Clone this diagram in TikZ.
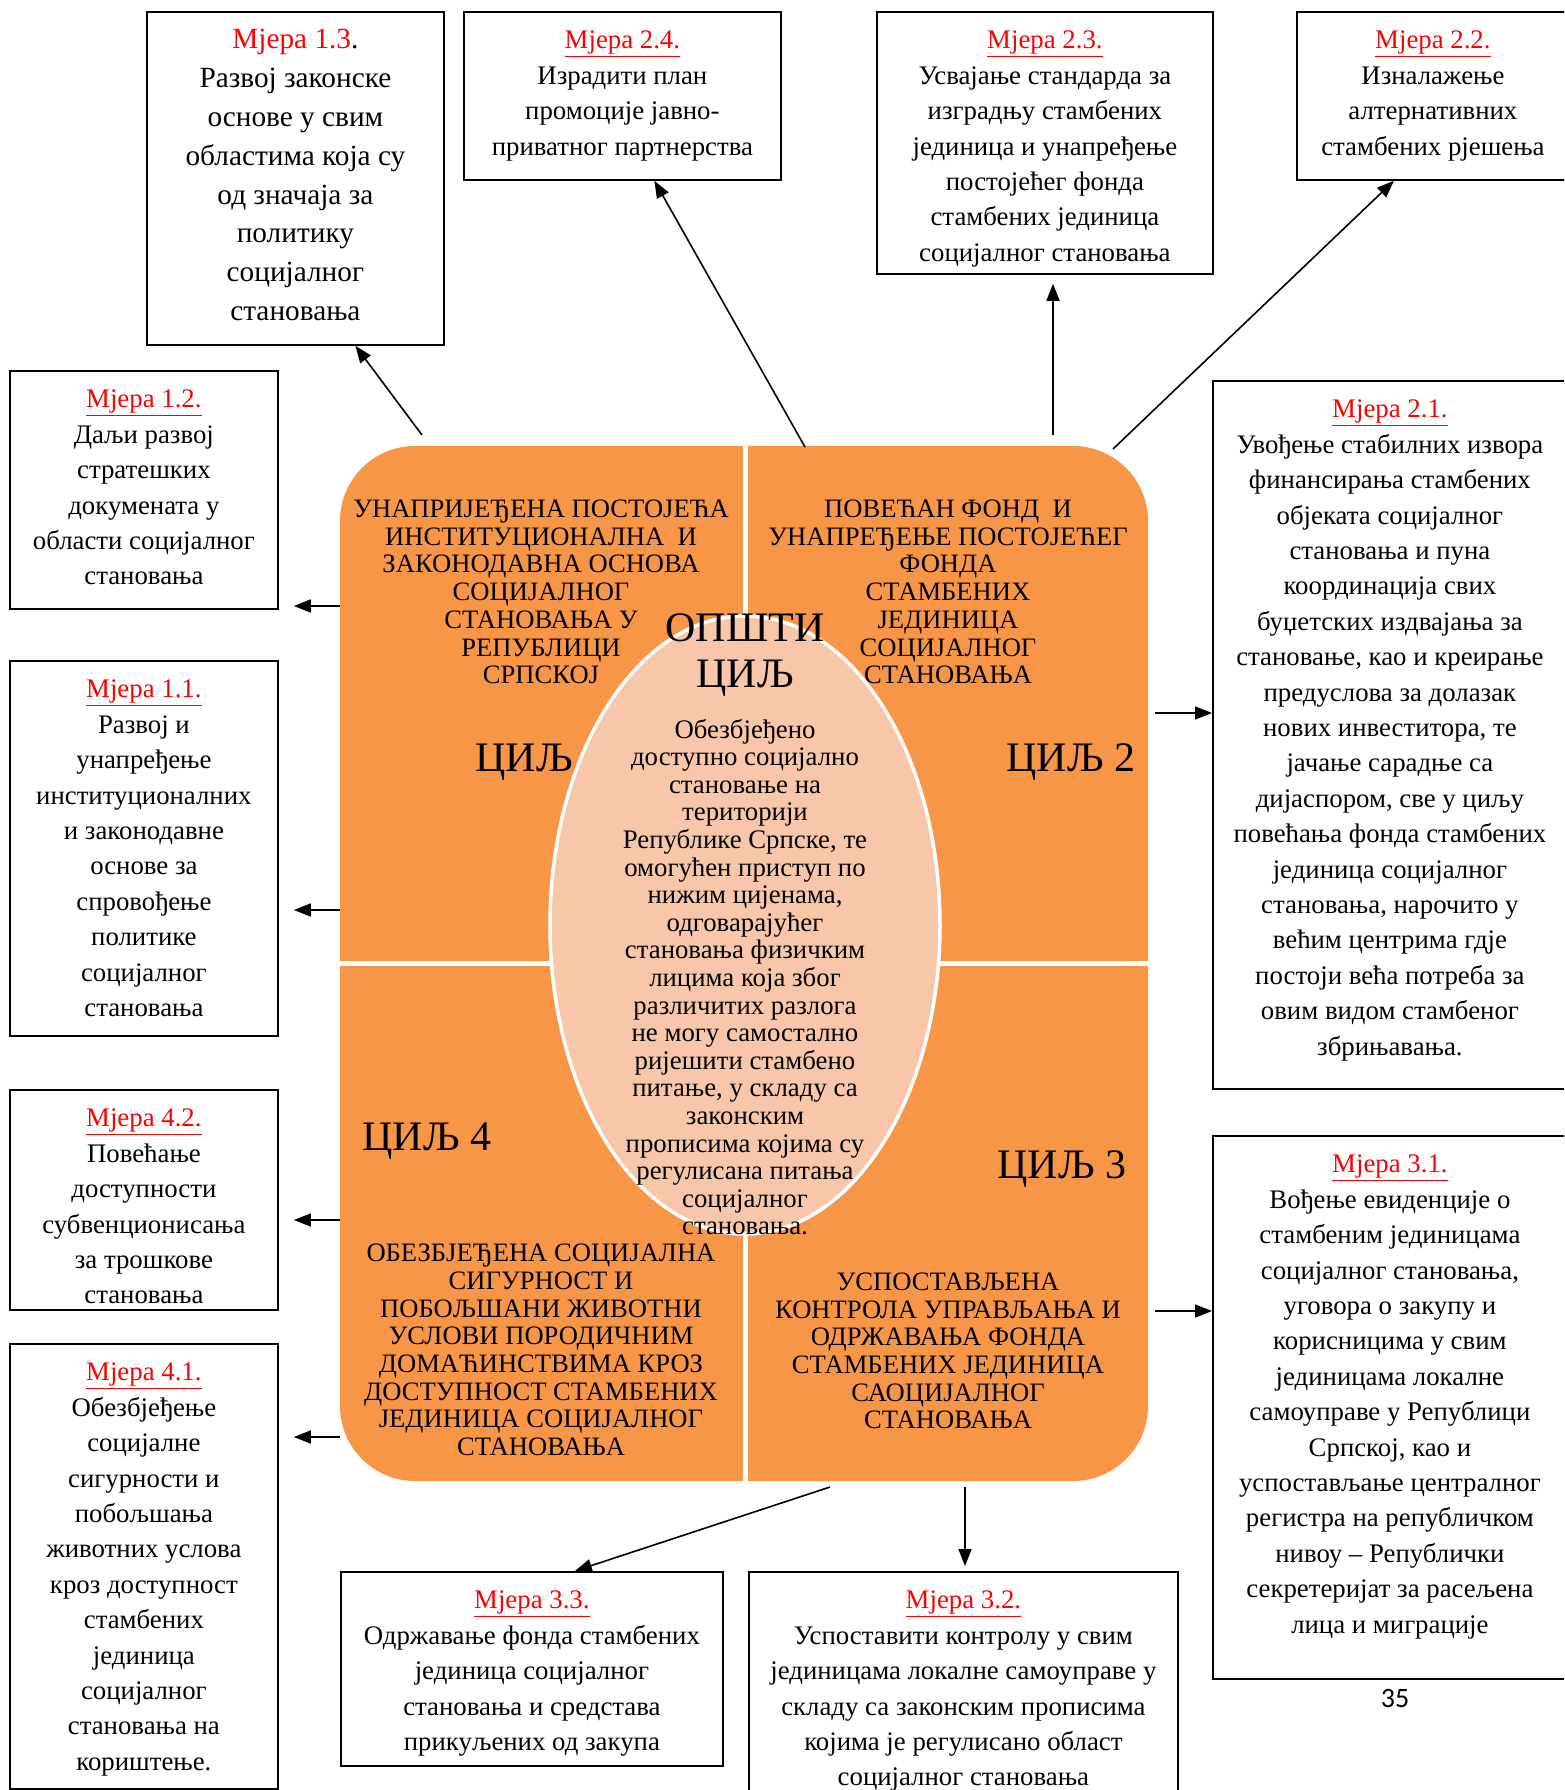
\documentclass[tikz,border=0pt]{standalone}
\usepackage{fontspec}
\setmainfont{Liberation Serif}
\newfontfamily\pagenumfont{Carlito}
\usepackage{xcolor}
\usepackage{tikz}
\usetikzlibrary{arrows.meta}

\definecolor{goalorange}{HTML}{F79646}
\definecolor{goalpeach}{HTML}{F8C6A9}
\definecolor{mjerared}{HTML}{FF0000}

\newcommand{\boxfont}{\fontsize{26.8}{35.4}\selectfont}
\newcommand{\bigboxfont}{\fontsize{29.3}{38.8}\selectfont}
\newcommand{\goalfont}{\fontsize{26.6}{27.7}\selectfont}
\newcommand{\ciljfont}{\fontsize{42}{46}\selectfont}
\newcommand{\opstifont}{\fontsize{26.8}{27.6}\selectfont}

\newcommand{\mjeralabel}[1]{\textcolor{mjerared}{\underline{Мјера #1}}}
\newcommand{\mjerabody}[3]{\parbox[c][#2][t]{#1}{\centering\rule{0pt}{37pt}#3}}

\begin{document}
\begin{tikzpicture}[x=1pt,y=-1pt,
    mjera/.style={draw=black, line width=1.8pt, inner sep=0pt, anchor=north west, font=\boxfont},
    goaltext/.style={align=center, inner sep=0pt, font=\goalfont},
    cilj/.style={inner sep=0pt, font=\ciljfont},
    arr/.style={-{Triangle[length=17pt,width=13pt]}, line width=1.6pt}]
  \useasboundingbox (0,0) rectangle (1564,1790);
  \clip (0,0) rectangle (1564,1790);

  % Orange block with the four goals
  \fill[goalorange, rounded corners=75pt] (340,446) rectangle (1148,1481);
  \draw[white, line width=5pt] (745,446) -- (745,1481);
  \draw[white, line width=5pt] (340,963) -- (1148,963);

  % General goal in the middle
  \draw[white, line width=3.5pt, fill=goalpeach] (745,925) ellipse [x radius=195pt, y radius=309pt];

  % Goal texts
  \node[goaltext] (g1) at (541,592) {УНАПРИЈЕЂЕНА ПОСТОЈЕЋА\\ИНСТИТУЦИОНАЛНА\ \ И\\ЗАКОНОДАВНА ОСНОВА\\СОЦИЈАЛНОГ\\СТАНОВАЊА У\\РЕПУБЛИЦИ\\СРПСКОЈ};
  \node[goaltext] (g2) at (948,592) {ПОВЕЋАН ФОНД\ \ И\\УНАПРЕЂЕЊЕ ПОСТОЈЕЋЕГ\\ФОНДА\\СТАМБЕНИХ\\ЈЕДИНИЦА\\СОЦИЈАЛНОГ\\СТАНОВАЊА};
  \node[goaltext] (g4) at (541,1350) {ОБЕЗБЈЕЂЕНА СОЦИЈАЛНА\\СИГУРНОСТ И\\ПОБОЉШАНИ ЖИВОТНИ\\УСЛОВИ ПОРОДИЧНИМ\\ДОМАЋИНСТВИМА КРОЗ\\ДОСТУПНОСТ СТАМБЕНИХ\\ЈЕДИНИЦА СОЦИЈАЛНОГ\\СТАНОВАЊА};
  \node[goaltext] (g3) at (948,1351) {УСПОСТАВЉЕНА\\КОНТРОЛА УПРАВЉАЊА И\\ОДРЖАВАЊА ФОНДА\\СТАМБЕНИХ ЈЕДИНИЦА\\САОЦИЈАЛНОГ\\СТАНОВАЊА};

  \node[cilj] (c1) at (524,762) {ЦИЉ};
  \node[cilj] (c2) at (1071,762) {ЦИЉ 2};
  \node[cilj] (c4) at (427,1141) {ЦИЉ 4};
  \node[cilj] (c3) at (1062,1169) {ЦИЉ 3};

  \node[cilj, align=center] (opsti) at (745,655) {ОПШТИ\\ЦИЉ};
  \node[align=center, inner sep=0pt, font=\opstifont] (opstitext) at (745,977) {Обезбјеђено\\доступно социјално\\становање на\\територији\\Републике Српске, те\\омогућен приступ по\\нижим цијенама,\\одговарајућег\\становања физичким\\лицима која због\\различитих разлога\\не могу самостално\\ријешити стамбено\\питање, у складу са\\законским\\прописима којима су\\регулисана питања\\социјалног\\становања.};

  % Measures
  \node[mjera, font=\bigboxfont] (m13) at (146,11) {\mjerabody{297pt}{333pt}{\textcolor{mjerared}{Мјера 1.3}.\\Развој законске\\основе у свим\\областима која су\\од значаја за\\политику\\социјалног\\становања}};
  \node[mjera] (m24) at (463,11) {\mjerabody{317pt}{168pt}{\mjeralabel{2.4.}\\Израдити план\\промоције јавно-\\приватног партнерства}};
  \node[mjera] (m23) at (876,11) {\mjerabody{336pt}{262pt}{\mjeralabel{2.3.}\\Усвајање стандарда за\\изградњу стамбених\\јединица и унапређење\\постојећег фонда\\стамбених јединица\\социјалног становања}};
  \node[mjera] (m22) at (1296,11) {\mjerabody{272pt}{168pt}{\mjeralabel{2.2.}\\Изналажење\\алтернативних\\стамбених рјешења}};
  \node[mjera] (m12) at (9,370) {\mjerabody{268pt}{238pt}{\mjeralabel{1.2.}\\Даљи развој\\стратешких\\докумената у\\области социјалног\\становања}};
  \node[mjera] (m11) at (9,660) {\mjerabody{268pt}{375pt}{\mjeralabel{1.1.}\\Развој и\\унапређење\\институционалних\\и законодавне\\основе за\\спровођење\\политике\\социјалног\\становања}};
  \node[mjera] (m42) at (9,1089) {\mjerabody{268pt}{220pt}{\mjeralabel{4.2.}\\Повећање\\доступности\\субвенционисања\\за трошкове\\становања}};
  \node[mjera] (m41) at (9,1343) {\mjerabody{268pt}{445pt}{\mjeralabel{4.1.}\\Обезбјеђење\\социјалне\\сигурности и\\побољшања\\животних услова\\кроз доступност\\стамбених\\јединица\\социјалног\\становања на\\кориштење.}};
  \node[mjera] (m21) at (1212,380) {\mjerabody{354pt}{708pt}{\mjeralabel{2.1.}\\Увођење стабилних извора\\финансирања стамбених\\објеката социјалног\\становања и пуна\\координација свих\\буџетских издвајања за\\становање, као и креирање\\предуслова за долазак\\нових инвеститора, те\\јачање сарадње са\\дијаспором, све у циљу\\повећања фонда стамбених\\јединица социјалног\\становања, нарочито у\\већим центрима гдје\\постоји већа потреба за\\овим видом стамбеног\\збрињавања.}};
  \node[mjera] (m31) at (1212,1135) {\mjerabody{354pt}{543pt}{\mjeralabel{3.1.}\\Вођење евиденције о\\стамбеним јединицама\\социјалног становања,\\уговора о закупу и\\корисницима у свим\\јединицама локалне\\самоуправе у Републици\\Српској, као и\\успостављање централног\\регистра на републичком\\нивоу – Републички\\секретеријат за расељена\\лица и миграције}};
  \node[mjera] (m33) at (340,1571) {\mjerabody{382pt}{194pt}{\mjeralabel{3.3.}\\Одржавање фонда стамбених\\јединица социјалног\\становања и средстава\\прикуљених од закупа}};
  \node[mjera] (m32) at (748,1571) {\mjerabody{429pt}{240pt}{\mjeralabel{3.2.}\\Успоставити контролу у свим\\јединицама локалне самоуправе у\\складу са законским прописима\\којима је регулисано област\\социјалног становања}};

  \node[font=\pagenumfont\fontsize{28}{30}\selectfont] (pnum) at (1395,1698) {35};

  % Arrow starts on the goal block
  \coordinate (s13) at (422,435);
  \coordinate (s24) at (805,447);
  \coordinate (s23) at (1053,435);
  \coordinate (s22) at (1113,449);
  \coordinate (s12) at (340,606);
  \coordinate (s11) at (340,910);
  \coordinate (s42) at (340,1220);
  \coordinate (s41) at (340,1437);
  \coordinate (s21) at (1155,713);
  \coordinate (s31) at (1155,1311);
  \coordinate (s33) at (830,1487);
  \coordinate (s32) at (965,1487);

  % Arrows to the measures
  \draw[arr] (s13) -- ([xshift=60pt]m13.south);
  \draw[arr] (s24) -- ([xshift=32pt]m24.south);
  \draw[arr, shorten >=9pt] (s23) -- (s23 |- m23.south);
  \draw[arr] (s22) -- ([xshift=-39pt]m22.south);
  \draw[arr, shorten >=15pt] (s12) -- (m12.east |- s12);
  \draw[arr, shorten >=15pt] (s11) -- (m11.east |- s11);
  \draw[arr, shorten >=15pt] (s42) -- (m42.east |- s42);
  \draw[arr, shorten >=15pt] (s41) -- (m41.east |- s41);
  \draw[arr] (s21) -- (m21.west |- s21);
  \draw[arr] (s31) -- (m31.west |- s31);
  \draw[arr] (s33) -- ([xshift=43pt]m33.north);
  \draw[arr, shorten >=5pt] (s32) -- (s32 |- m32.north);

\end{tikzpicture}
\end{document}
